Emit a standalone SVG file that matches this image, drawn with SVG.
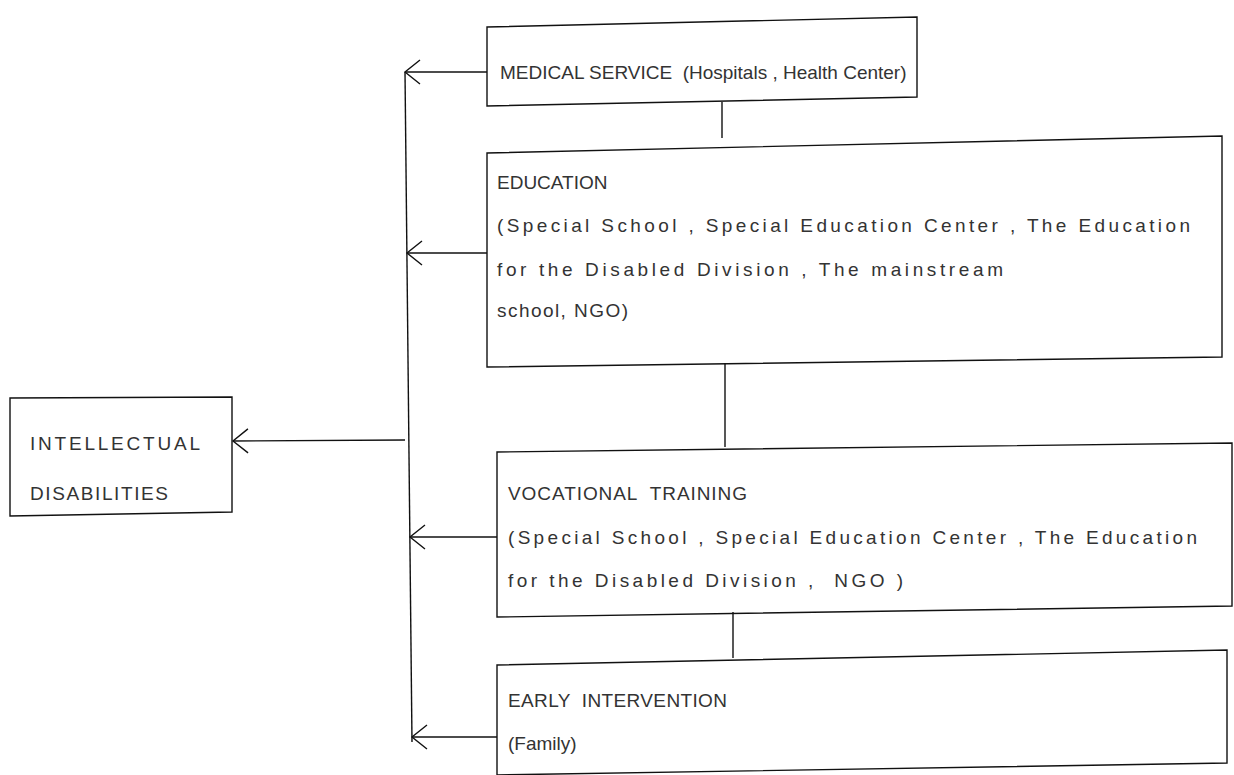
<svg xmlns="http://www.w3.org/2000/svg" width="1234" height="775" viewBox="0 0 1234 775">
  <defs>
    <!-- open chevron arrowhead -->
    <marker id="open" viewBox="0 0 20 26" refX="18" refY="13" markerWidth="20" markerHeight="26" markerUnits="userSpaceOnUse" orient="auto">
      <path d="M3,1 L18,13 L3,25" fill="none" stroke="#111" stroke-width="1.4"/>
    </marker>
    <style>
      .box { fill: none; stroke: #111; stroke-width: 1.4; }
      .line { fill: none; stroke: #111; stroke-width: 1.4; }
      .arrow { fill: none; stroke: #111; stroke-width: 1.4; marker-end: url(#open); }
      text { font-family: "Liberation Sans", Arial, sans-serif; font-size: 19px; fill: #333; }
    </style>
  </defs>
  <rect width="1234" height="775" fill="#fff"/>

  <g id="connectors">
    <!-- vertical bus feeding the target box -->
    <line class="line" x1="405" y1="72" x2="412" y2="742"/>
    <!-- arrows from each service into the bus -->
    <line class="arrow" x1="487" y1="72" x2="405" y2="72"/>
    <line class="arrow" x1="487" y1="253" x2="407" y2="253"/>
    <line class="arrow" x1="497" y1="537" x2="410" y2="537"/>
    <line class="arrow" x1="497" y1="737" x2="412" y2="737"/>
    <!-- bus into intellectual disabilities -->
    <line class="arrow" x1="405" y1="440" x2="233" y2="441"/>
    <!-- links between stacked service boxes -->
    <line class="line" x1="722" y1="102" x2="722" y2="138"/>
    <line class="line" x1="725" y1="363" x2="725" y2="447"/>
    <line class="line" x1="733" y1="612" x2="733" y2="658"/>
  </g>

  <g id="intellectual-disabilities">
    <polygon class="box" points="10,398 232,397 232,512 10,516"/>
    <text x="30" y="450" textLength="170" lengthAdjust="spacing">INTELLECTUAL</text>
    <text x="30" y="500" textLength="138" lengthAdjust="spacing">DISABILITIES</text>
  </g>

  <g id="medical-service">
    <polygon class="box" points="487,27 917,17 917,97 487,106"/>
    <text x="500" y="79" xml:space="preserve">MEDICAL SERVICE  (Hospitals , Health Center)</text>
  </g>

  <g id="education">
    <polygon class="box" points="487,153 1222,136 1222,357 487,367"/>
    <text x="497" y="189">EDUCATION</text>
    <text x="497" y="232" textLength="693" lengthAdjust="spacing">(Special School , Special Education Center , The Education</text>
    <text x="497" y="276" textLength="506" lengthAdjust="spacing">for the Disabled Division , The mainstream</text>
    <text x="497" y="317" textLength="131" lengthAdjust="spacing">school, NGO)</text>
  </g>

  <g id="vocational-training">
    <polygon class="box" points="497,452 1232,443 1232,606 497,617"/>
    <text x="508" y="500" textLength="239" lengthAdjust="spacing" xml:space="preserve">VOCATIONAL  TRAINING</text>
    <text x="508" y="544" textLength="689" lengthAdjust="spacing">(Special School , Special Education Center , The Education</text>
    <text x="508" y="587" textLength="395" lengthAdjust="spacing" xml:space="preserve">for the Disabled Division ,  NGO )</text>
  </g>

  <g id="early-intervention">
    <polygon class="box" points="497,665 1227,650 1227,763 497,775"/>
    <text x="508" y="707" textLength="219" lengthAdjust="spacing" xml:space="preserve">EARLY  INTERVENTION</text>
    <text x="508" y="750">(Family)</text>
  </g>
</svg>
